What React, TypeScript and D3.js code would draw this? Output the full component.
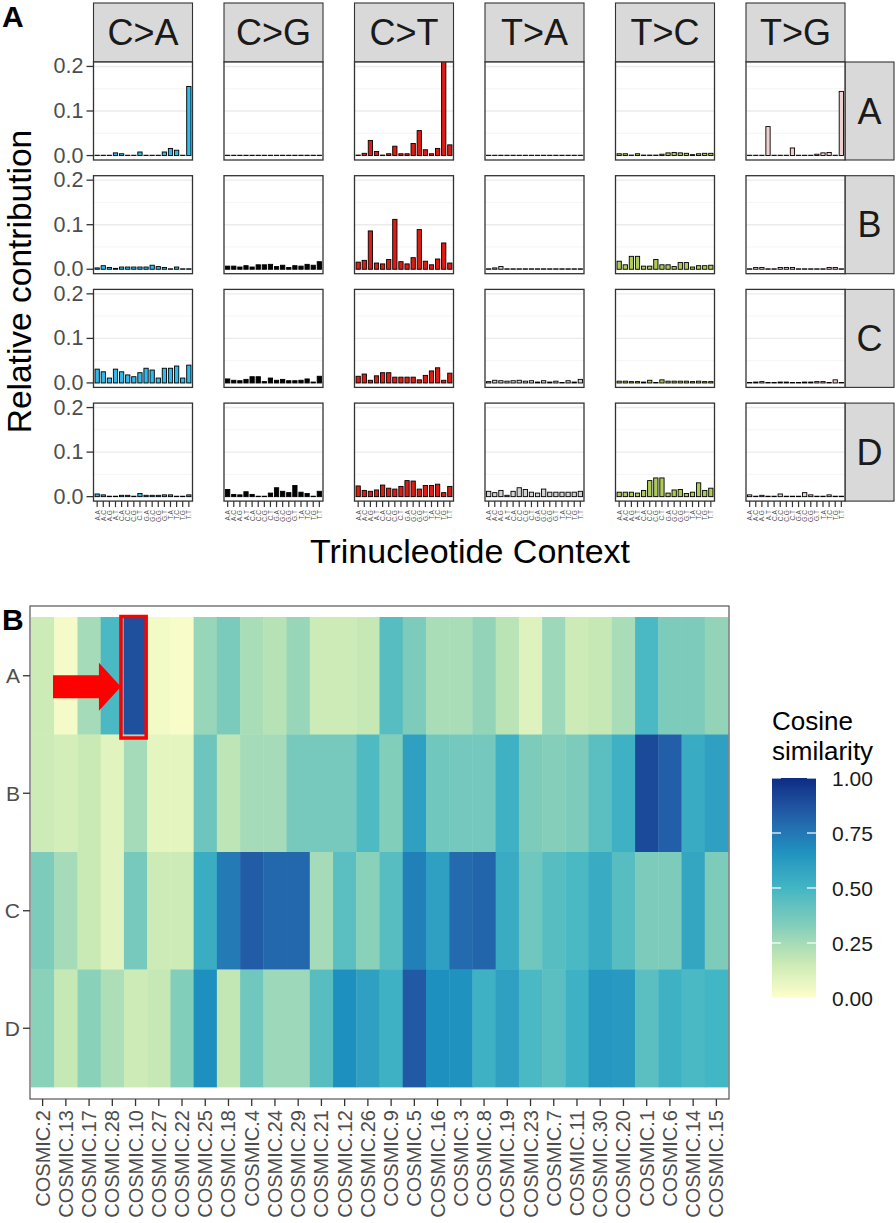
import React from "react";
import * as d3 from "d3";

const mutTypes = ["C>A", "C>G", "C>T", "T>A", "T>C", "T>G"];
const mutColors = ["#2EBAED", "#000000", "#DE1C14", "#D4D2D2", "#ADCC54", "#F0D0CE"];
const samples = ["A", "B", "C", "D"];
const contexts = ["A.A","A.C","A.G","A.T","C.A","C.C","C.G","C.T","G.A","G.C","G.G","G.T","T.A","T.C","T.G","T.T"];
const yTicks = [0, 0.1, 0.2];

// relative contribution per sample, 6 mutation types x 16 contexts
const profileA = [
  0,0,0,0.006,0.004,0,0,0.008,0,0,0,0.008,0.016,0.012,0,0.155,
  0,0,0,0,0,0,0,0,0,0,0,0,0,0,0,0,
  0.001,0.005,0.034,0.009,0.001,0.004,0.021,0.004,0.004,0.027,0.056,0.013,0.004,0.016,0.215,0.024,
  0,0,0,0,0,0,0,0,0,0,0,0,0,0,0,0,
  0.004,0.004,0.001,0.004,0.001,0.001,0.001,0.003,0.006,0.007,0.006,0.005,0.002,0.004,0.005,0.005,
  0,0,0,0.065,0,0,0,0.017,0,0,0,0.003,0.006,0.007,0,0.144,
];
const profileB = [
  0.003,0.008,0.004,0.002,0.005,0.005,0.005,0.005,0.005,0.009,0.006,0.004,0.001,0.005,0.001,0.001,
  0.007,0.007,0.005,0.008,0.005,0.01,0.01,0.011,0.006,0.009,0.004,0.008,0.007,0.011,0.009,0.017,
  0.016,0.02,0.086,0.014,0.012,0.022,0.112,0.017,0.012,0.026,0.089,0.018,0.01,0.023,0.059,0.014,
  0.001,0.003,0.006,0.001,0.001,0.001,0.001,0.001,0.001,0.001,0.001,0.001,0.001,0.001,0.001,0.001,
  0.018,0.01,0.029,0.029,0.007,0.007,0.022,0.01,0.01,0.006,0.015,0.015,0.005,0.008,0.008,0.009,
  0.001,0.004,0.004,0.001,0.001,0.004,0.004,0.004,0.001,0.001,0.001,0.001,0.001,0.004,0.004,0.001,
];
const profileC = [
  0.031,0.025,0.011,0.031,0.025,0.018,0.014,0.023,0.033,0.029,0.011,0.033,0.033,0.038,0.011,0.04,
  0.009,0.006,0.005,0.008,0.014,0.014,0.003,0.011,0.006,0.008,0.005,0.005,0.006,0.009,0.002,0.015,
  0.015,0.02,0.006,0.016,0.023,0.023,0.013,0.013,0.013,0.013,0.007,0.017,0.027,0.034,0.006,0.022,
  0.003,0.006,0.005,0.004,0.005,0.006,0.004,0.005,0.002,0.005,0.002,0.004,0.001,0.005,0.002,0.008,
  0.004,0.004,0.003,0.003,0.002,0.006,0.001,0.007,0.004,0.004,0.004,0.004,0.003,0.004,0.003,0.003,
  0.001,0.002,0.003,0.001,0.001,0.002,0.002,0.001,0.001,0.002,0.002,0.003,0.003,0.001,0.007,0.001,
];
const profileD = [
  0.006,0.004,0.001,0.001,0.003,0.003,0.001,0.007,0.003,0.003,0.003,0.004,0.004,0.001,0.001,0.004,
  0.016,0.005,0.004,0.011,0.005,0.001,0.001,0.008,0.02,0.012,0.009,0.025,0.01,0.007,0.001,0.012,
  0.024,0.014,0.012,0.015,0.026,0.019,0.017,0.023,0.036,0.035,0.017,0.025,0.025,0.028,0.009,0.023,
  0.012,0.009,0.014,0.003,0.012,0.02,0.016,0.01,0.008,0.017,0.01,0.01,0.01,0.01,0.01,0.012,
  0.01,0.01,0.01,0.008,0.014,0.036,0.042,0.042,0.008,0.015,0.016,0.007,0.01,0.031,0.014,0.019,
  0.004,0.001,0.003,0.001,0.001,0.006,0.001,0.001,0.001,0.009,0.004,0.001,0.001,0.004,0.001,0.001,
];
const profiles = [profileA, profileB, profileC, profileD];

// cosine similarity heatmap
const signatures = ["COSMIC.2","COSMIC.13","COSMIC.17","COSMIC.28","COSMIC.10","COSMIC.27","COSMIC.22","COSMIC.25","COSMIC.18","COSMIC.4","COSMIC.24","COSMIC.29","COSMIC.21","COSMIC.12","COSMIC.26","COSMIC.9","COSMIC.5","COSMIC.16","COSMIC.3","COSMIC.8","COSMIC.19","COSMIC.23","COSMIC.7","COSMIC.11","COSMIC.30","COSMIC.20","COSMIC.1","COSMIC.6","COSMIC.14","COSMIC.15"];
const simA = [0.15,0.03,0.25,0.48,0.88,0.04,0.02,0.28,0.35,0.24,0.21,0.28,0.15,0.15,0.17,0.45,0.34,0.24,0.24,0.29,0.2,0.1,0.27,0.15,0.17,0.24,0.48,0.34,0.34,0.29];
const simB = [0.15,0.13,0.16,0.09,0.25,0.08,0.08,0.39,0.19,0.25,0.25,0.36,0.36,0.36,0.47,0.33,0.6,0.38,0.37,0.37,0.52,0.34,0.32,0.34,0.44,0.52,0.9,0.83,0.55,0.6];
const simC = [0.34,0.25,0.16,0.09,0.36,0.15,0.15,0.54,0.74,0.84,0.8,0.8,0.25,0.44,0.31,0.45,0.72,0.6,0.79,0.81,0.55,0.38,0.45,0.48,0.55,0.45,0.34,0.34,0.57,0.34];
const simD = [0.31,0.17,0.31,0.23,0.15,0.17,0.33,0.67,0.18,0.38,0.27,0.27,0.45,0.67,0.6,0.52,0.85,0.67,0.66,0.52,0.6,0.48,0.44,0.52,0.64,0.63,0.44,0.52,0.48,0.5];
const simRows = [simA, simB, simC, simD];
const legendBreaks = [0, 0.25, 0.5, 0.75, 1];
const palette = ["#ffffcc", "#c7e9b4", "#7fcdbb", "#41b6c4", "#1d91c0", "#225ea8", "#0c2c84"];

const FONT = "'Liberation Sans', Arial, Helvetica, sans-serif";

export default function App() {
  // ---------- Panel A geometry ----------
  const panelLeft0 = 93.5, panelStep = 130.5, panelW = 99;
  const panelTop0 = 62, rowStep = 113.7, panelH = 98;
  const stripTop = 3;
  const rowStripW = 49;

  const y = d3.scaleLinear().domain([-0.01, 0.21]).range([panelH, 0]);
  const x = d3.scaleLinear().domain([0.4, 16.6]).range([0, panelW]);
  const barW = (x(1.7) - x(1));

  // ---------- Panel B geometry ----------
  const hmLeft = 31, hmRight = 728, frameTop = 606, frameBottom = 1099;
  const tileTop = 617, tileBottom = 1087;
  const hx = d3.scaleBand().domain(signatures).range([hmLeft, hmRight]);
  const hy = d3.scaleBand().domain(samples).range([tileTop, tileBottom]);
  const color = d3.scaleLinear<string>()
    .domain(palette.map((_, i) => i / (palette.length - 1)))
    .range(palette)
    .interpolate(d3.interpolateLab);

  const legX = 772, legW = 44, legTop = 778, legBottom = 998;
  const ly = d3.scaleLinear().domain([0, 1]).range([legBottom, legTop]);
  const gradStops = d3.range(0, 1.0001, 0.05);

  const hiCol = signatures[4];
  const hiRow = samples[0];
  const hiX0 = (hx(hiCol) as number) - 3;
  const hiX1 = (hx(hiCol) as number) + hx.bandwidth() - 1;
  const hiY0 = (hy(hiRow) as number) - 0.5;
  const hiY1 = (hy(hiRow) as number) + hy.bandwidth() + 3.5;
  const arrowTipX = hiX0;
  const arrowY = (hy(hiRow) as number) + hy.bandwidth() / 2 + 11;

  return (
    <svg width={896} height={1223} style={{ position: "absolute", left: 0, top: 0, background: "#fff" }} fontFamily={FONT}>
      <defs>
        <linearGradient id="cosgrad" x1="0" y1="1" x2="0" y2="0">
          {gradStops.map((s) => (
            <stop key={s} offset={s} stopColor={color(s)} />
          ))}
        </linearGradient>
        {samples.map((s, ri) => mutTypes.map((m, ci) => (
          <clipPath id={`clip-${ri}-${ci}`} key={`${ri}-${ci}`}>
            <rect x={0} y={0} width={panelW} height={panelH} />
          </clipPath>
        )))}
      </defs>

      {/* Panel labels */}
      <text x={2} y={27} fontSize={30} fontWeight="bold" fill="#000">A</text>
      <text x={2} y={630} fontSize={30} fontWeight="bold" fill="#000">B</text>

      {/* column strips */}
      {mutTypes.map((m, ci) => {
        const px = panelLeft0 + ci * panelStep;
        return (
          <g key={m}>
            <rect x={px} y={stripTop} width={panelW} height={panelTop0 - stripTop} fill="#d9d9d9" stroke="#333" strokeWidth={1.1} />
            <text x={px + panelW / 2} y={stripTop + (panelTop0 - stripTop) / 2} textAnchor="middle" dominantBaseline="central" fontSize={36} fill="#1a1a1a">{m}</text>
          </g>
        );
      })}

      {/* panels */}
      {samples.map((s, ri) => {
        const py = panelTop0 + ri * rowStep;
        const prof = profiles[ri];
        return (
          <g key={s}>
            {/* row strip */}
            <rect x={panelLeft0 + 5 * panelStep + panelW} y={py} width={rowStripW} height={panelH} fill="#d9d9d9" stroke="#333" strokeWidth={1.1} />
            <text x={panelLeft0 + 5 * panelStep + panelW + rowStripW / 2} y={py + panelH / 2} textAnchor="middle" dominantBaseline="central" fontSize={36} fill="#1a1a1a">{s}</text>
            {/* y axis */}
            {yTicks.map((t) => (
              <g key={t}>
                <line x1={panelLeft0 - 7} x2={panelLeft0} y1={py + y(t)} y2={py + y(t)} stroke="#333" strokeWidth={1.3} />
                <text x={panelLeft0 - 10} y={py + y(t)} textAnchor="end" dominantBaseline="central" fontSize={21.5} fill="#4d4d4d">{t.toFixed(1)}</text>
              </g>
            ))}
            {mutTypes.map((m, ci) => {
              const px = panelLeft0 + ci * panelStep;
              const vals = prof.slice(ci * 16, ci * 16 + 16);
              return (
                <g key={m} transform={`translate(${px},${py})`}>
                  <rect x={0} y={0} width={panelW} height={panelH} fill="#fff" />
                  {[0.05, 0.15].map((g) => (
                    <line key={g} x1={0} x2={panelW} y1={y(g)} y2={y(g)} stroke="#f2f2f2" strokeWidth={0.8} />
                  ))}
                  {yTicks.map((g) => (
                    <line key={g} x1={0} x2={panelW} y1={y(g)} y2={y(g)} stroke="#ebebeb" strokeWidth={1.4} />
                  ))}
                  <g clipPath={`url(#clip-${ri}-${ci})`}>
                    {vals.map((v, i) => {
                      const top = y(Math.max(v, 0));
                      const base = y(0);
                      const h = Math.max(base - top, 0.3);
                      return (
                        <rect key={i} x={x(i + 1) - barW / 2} y={base - h} width={barW} height={h}
                          fill={mutColors[ci]} stroke="#000" strokeWidth={0.9} />
                      );
                    })}
                  </g>
                  <rect x={0} y={0} width={panelW} height={panelH} fill="none" stroke="#333" strokeWidth={1.3} />
                  {ri === samples.length - 1 && contexts.map((c, i) => (
                    <g key={c}>
                      <line x1={x(i + 1)} x2={x(i + 1)} y1={panelH} y2={panelH + 6} stroke="#333" strokeWidth={1.2} />
                      <text transform={`translate(${x(i + 1)},${panelH + 9}) rotate(-90)`} textAnchor="end" dominantBaseline="central" fontSize={6.5} fill="#4d4d4d">{c}</text>
                    </g>
                  ))}
                </g>
              );
            })}
          </g>
        );
      })}

      {/* axis titles A */}
      <text transform={`translate(31,${panelTop0 + (3 * rowStep + panelH) / 2}) rotate(-90)`} textAnchor="middle" fontSize={33.5} fill="#000">Relative contribution</text>
      <text x={470} y={563} textAnchor="middle" fontSize={34} fill="#000">Trinucleotide Context</text>

      {/* ---------- Heatmap ---------- */}
      {simRows.map((row, ri) => row.map((v, ci) => (
        <rect key={`${ri}-${ci}`} x={hx(signatures[ci])} y={hy(samples[ri])} width={hx.bandwidth() + 0.4} height={hy.bandwidth() + 0.4} fill={color(v)} />
      )))}
      <rect x={hmLeft - 1} y={frameTop} width={hmRight - hmLeft + 2} height={frameBottom - frameTop} fill="none" stroke="#555" strokeWidth={1.2} />
      {samples.map((s) => {
        const cy = (hy(s) as number) + hy.bandwidth() / 2;
        return (
          <g key={s}>
            <line x1={hmLeft - 8} x2={hmLeft - 1} y1={cy} y2={cy} stroke="#333" strokeWidth={1.3} />
            <text x={hmLeft - 11} y={cy} textAnchor="end" dominantBaseline="central" fontSize={21} fill="#4d4d4d">{s}</text>
          </g>
        );
      })}
      {signatures.map((sg) => {
        const cx = (hx(sg) as number) + hx.bandwidth() / 2;
        return (
          <g key={sg}>
            <line x1={cx} x2={cx} y1={frameBottom} y2={frameBottom + 7} stroke="#333" strokeWidth={1.3} />
            <text transform={`translate(${cx},${frameBottom + 11}) rotate(-90)`} textAnchor="end" dominantBaseline="central" fontSize={20} fill="#4d4d4d">{sg}</text>
          </g>
        );
      })}

      {/* highlight */}
      <rect x={hiX0} y={hiY0} width={hiX1 - hiX0} height={hiY1 - hiY0} fill="none" stroke="#ff0000" strokeWidth={3.5} />
      <path d={`M53,${arrowY - 11.5} L${arrowTipX - 22},${arrowY - 11.5} L${arrowTipX - 22},${arrowY - 24} L${arrowTipX},${arrowY} L${arrowTipX - 22},${arrowY + 24} L${arrowTipX - 22},${arrowY + 11.5} L53,${arrowY + 11.5} Z`} fill="#ff0000" />

      {/* legend */}
      <text x={legX} y={730} fontSize={26} fill="#000">Cosine</text>
      <text x={legX} y={760} fontSize={26} fill="#000">similarity</text>
      <rect x={legX} y={legTop} width={legW} height={legBottom - legTop} fill="url(#cosgrad)" />
      {legendBreaks.map((b) => (
        <g key={b}>
          <line x1={legX} x2={legX + 9} y1={ly(b)} y2={ly(b)} stroke="#fff" strokeWidth={1.2} />
          <line x1={legX + legW - 9} x2={legX + legW} y1={ly(b)} y2={ly(b)} stroke="#fff" strokeWidth={1.2} />
          <text x={legX + 60} y={ly(b)} dominantBaseline="central" fontSize={21} fill="#1a1a1a">{b.toFixed(2)}</text>
        </g>
      ))}
    </svg>
  );
}
